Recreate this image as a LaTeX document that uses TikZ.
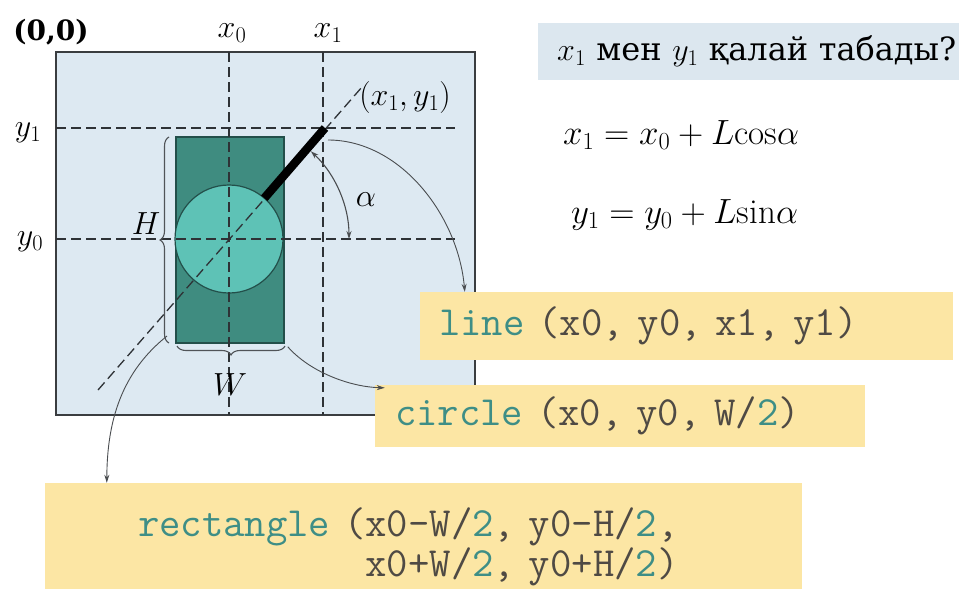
\RequirePackage{fix-cm}
\documentclass[tikz,border=0pt]{standalone}
\usepackage{fontspec}
\usetikzlibrary{decorations.pathreplacing,arrows.meta,calc}
\newfontfamily\cyrfont{DejaVu Serif}
\definecolor{panelblue}{HTML}{DDE9F2}
\definecolor{titleblue}{HTML}{DCE7EF}
\definecolor{panelline}{HTML}{3A3D40}
\definecolor{tealdark}{HTML}{3F8C80}
\definecolor{teallight}{HTML}{5EC2B6}
\definecolor{tealline}{HTML}{234F4A}
\definecolor{dashcol}{HTML}{2E3236}
\definecolor{conncol}{HTML}{4A4D50}
\definecolor{bracecol}{HTML}{505458}
\definecolor{codeyellow}{HTML}{FCE6A4}
\definecolor{codeteal}{HTML}{3E8E86}
\definecolor{codegray}{HTML}{4F4A44}
\begin{document}
\begin{tikzpicture}[x=1pt,y=-1pt,
  dashline/.style={draw=dashcol, line width=1.7pt, dash pattern=on 10pt off 5pt},
  conn/.style={draw=conncol, line width=0.9pt, -{Stealth[length=8pt,width=5pt]}},
  codebox/.style={fill=codeyellow, inner ysep=0pt, align=left, text=codegray,
    font=\ttfamily\fontsize{41.5}{40}\selectfont},
  lbl/.style={font=\fontsize{32}{38}\selectfont, inner sep=0pt},
  bracestyle/.style={decorate, decoration={brace, amplitude=9pt}, draw=bracecol, line width=1.1pt},
]
\useasboundingbox (0,0) rectangle (959,589);
\fill[white] (0,0) rectangle (959,589);

% panel
\draw[draw=panelline, line width=2.2pt, fill=panelblue] (56,52) rectangle (475,415);

% shapes
\coordinate (C) at (229,239);
\coordinate (P1) at (325,128);
\node[draw=tealline, fill=tealdark, line width=1.5pt, minimum width=108pt, minimum height=206pt, inner sep=0pt] (rect) at (230,240) {};
\node[draw=tealline, fill=teallight, line width=1.2pt, circle, minimum size=108pt, inner sep=0pt] (circ) at (C) {};

% dashed guide lines
\draw[dashline] (229,52) -- (229,415);
\draw[dashline] (323,52) -- (323,415);
\draw[dashline] (56,128) -- (455,128);
\draw[dashline] (56,239) -- (455,239);
\draw[dashline, line width=1.3pt] (98,390) -- (362,87);

% thick line
\draw[line width=8.5pt, black] ($(C)!54pt!(P1)$) -- (P1);

% angle
\draw[conncol, line width=1.1pt, {Stealth[length=8pt,width=5pt]}-{Stealth[length=8pt,width=5pt]}] (349,239) arc[start angle=0, end angle=47, radius=120pt];

% braces
\draw[bracestyle] (169,343) -- (169,137);
\draw[bracestyle] (285,346) -- (177,346);

% labels
\node[font=\cyrfont\bfseries\fontsize{28}{32}\selectfont, inner sep=0pt] (origin) at (51,32) {(0,0)};
\node[lbl] (lx0) at (232,33) {$x_0$};
\node[lbl] (lx1) at (328,33) {$x_1$};
\node[lbl] (ly1) at (28,133) {$y_1$};
\node[lbl] (ly0) at (30,242) {$y_0$};
\node[lbl] (lH) at (146,224) {$H$};
\node[lbl] (lW) at (230,385) {$W$};
\node[lbl] (lalpha) at (366,200) {$\alpha$};
\node[lbl] (lp1) at (405,98) {$(x_1,y_1)$};

% title and formulas
\node[fill=titleblue, anchor=west, minimum height=57pt, inner xsep=19pt, text width=420pt, align=left,
  font=\fontsize{32}{36}\selectfont] (title) at (538,51.5) {$x_1$ {\cyrfont мен} $y_1$ {\cyrfont қалай табады?}};
\node[font=\fontsize{35}{40}\selectfont, anchor=west, inner sep=0pt] (eq1) at (563,135) {$x_1 = x_0 + L\mathrm{cos}\alpha$};
\node[font=\fontsize{35}{40}\selectfont, anchor=west, inner sep=0pt] (eq2) at (571,215) {$y_1 = y_0 + L\mathrm{sin}\alpha$};

% code boxes
\node[codebox, minimum width=533pt, minimum height=68pt, inner xsep=19pt, text width=495pt] (linebox) at (686.5,326)
  {\textcolor{codeteal}{line} (x0, y0, x1, y1)};
\node[codebox, minimum width=490pt, minimum height=62pt, inner xsep=20pt, text width=450pt] (circbox) at (620,416)
  {\textcolor{codeteal}{circle} (x0, y0, W/\textcolor{codeteal}{2})};
\node[codebox, minimum width=757pt, minimum height=128pt, inner xsep=93pt, text width=571pt] (rectbox) at (423.5,547)
  {\textcolor{codeteal}{rectangle} (x0-W/\textcolor{codeteal}{2}, y0-H/\textcolor{codeteal}{2},\\
   \phantom{rectangle (}x0+W/\textcolor{codeteal}{2}, y0+H/\textcolor{codeteal}{2})};

% connectors
\draw[conn] ($(P1)+(3,12)$) .. controls (400,140) and (458,215) .. ($(linebox.north west)+(45,0)$);
\draw[conn] ($(rect.south east)+(3,3)$) .. controls (310,372) and (350,387) .. ($(circbox.north west)+(10,3)$);
\draw[conn] (167,336) .. controls (122,372) and (107,420) .. ($(rectbox.north west)+(62,0)$);
\end{tikzpicture}
\end{document}
